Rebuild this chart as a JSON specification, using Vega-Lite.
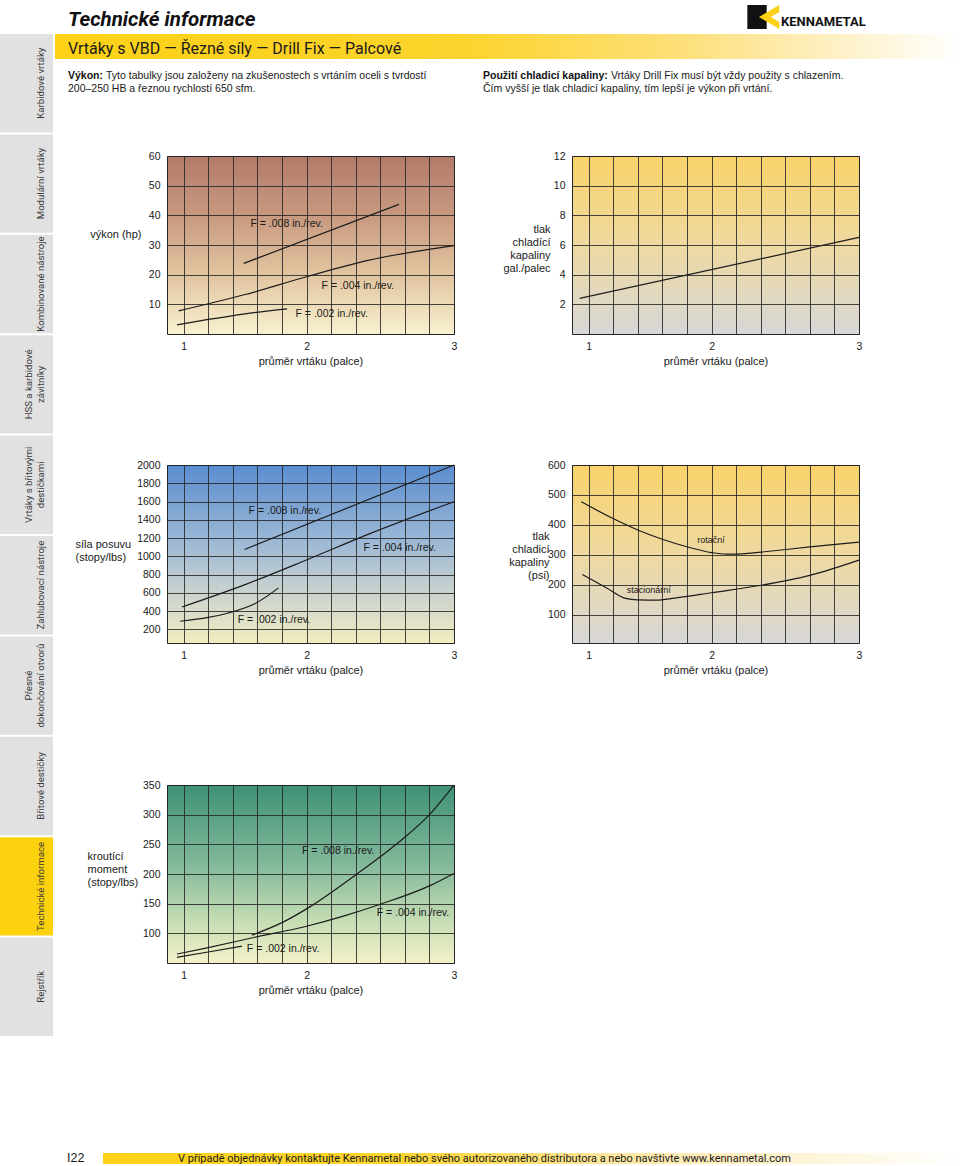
{
  "$schema": "https://vega.github.io/schema/vega-lite/v6.json",
  "background": "white",
  "padding": {"left": 0, "top": 4, "right": 0, "bottom": 0},
  "autosize": {"type": "pad"},
  "config": {
    "view": {"stroke": null},
    "point": {"size": 1, "strokeWidth": 0, "filled": true},
    "axis": {"grid": true, "gridColor": "#262626", "gridOpacity": 0.85, "gridWidth": 1, "ticks": false, "tickSize": 0, "domain": false, "labelFont": "Liberation Sans, Arial, Helvetica, sans-serif", "labelFontSize": 10.5, "labelColor": "#1a1a1a", "labelPadding": 7, "titleFont": "Liberation Sans, Arial, Helvetica, sans-serif", "titleFontSize": 11, "titleFontWeight": "normal", "titleColor": "#1a1a1a"},
    "title": {"font": "Liberation Sans, Arial, Helvetica, sans-serif", "fontWeight": "normal", "color": "#1a1a1a", "subtitleColor": "#1a1a1a", "frame": "group", "anchor": "start", "orient": "bottom", "baseline": "alphabetic"}
  },
  "datasets": {
    "tabs": [
      {"name": "Karbidové vrtáky", "first": "", "last": "Karbidové vrtáky", "state": "off"},
      {"name": "Modulární vrtáky", "first": "", "last": "Modulární vrtáky", "state": "off"},
      {"name": "Kombinované nástroje", "first": "", "last": "Kombinované nástroje", "state": "off"},
      {"name": "HSS a karbidové závitníky", "first": "HSS a karbidové", "last": "závitníky", "state": "off"},
      {"name": "Vrtáky s břitovými destičkami", "first": "Vrtáky s břitovými", "last": "destičkami", "state": "off"},
      {"name": "Zahlubovací nástroje", "first": "", "last": "Zahlubovací nástroje", "state": "off"},
      {"name": "Přesné dokončování otvorů", "first": "Přesné", "last": "dokončování otvorů", "state": "off"},
      {"name": "Břitové destičky", "first": "", "last": "Břitové destičky", "state": "off"},
      {"name": "Technické informace", "first": "", "last": "Technické informace", "state": "on"},
      {"name": "Rejstřík", "first": "", "last": "Rejstřík", "state": "off"}
    ],
    "c1": [
      {"series": "0.008", "x": 1.489, "y": 23.8}, {"series": "0.008", "x": 2.752, "y": 43.7},
      {"series": "0.004", "x": 0.959, "y": 7.8}, {"series": "0.004", "x": 1.5, "y": 13.3}, {"series": "0.004", "x": 2.0, "y": 19.3}, {"series": "0.004", "x": 2.5, "y": 24.8}, {"series": "0.004", "x": 3.2, "y": 29.8},
      {"series": "0.002", "x": 0.945, "y": 3.1}, {"series": "0.002", "x": 1.2, "y": 4.9}, {"series": "0.002", "x": 1.5, "y": 6.8}, {"series": "0.002", "x": 1.842, "y": 8.5}
    ],
    "t1": [
      {"label": "F = .008 in./rev.", "x": 1.543, "y": 37.1},
      {"label": "F = .004 in./rev.", "x": 2.122, "y": 16.3},
      {"label": "F = .002 in./rev.", "x": 1.91, "y": 6.7}
    ],
    "c2": [
      {"series": "tlak", "x": 0.926, "y": 2.4}, {"series": "tlak", "x": 3.2, "y": 6.51}
    ],
    "c3": [
      {"series": "0.008", "x": 1.495, "y": 1074}, {"series": "0.008", "x": 3.2, "y": 2000},
      {"series": "0.004", "x": 0.986, "y": 445}, {"series": "0.004", "x": 1.5, "y": 690}, {"series": "0.004", "x": 2.0, "y": 960}, {"series": "0.004", "x": 2.5, "y": 1240}, {"series": "0.004", "x": 3.2, "y": 1598},
      {"series": "0.002", "x": 0.972, "y": 288}, {"series": "0.002", "x": 1.2, "y": 330}, {"series": "0.002", "x": 1.365, "y": 379}, {"series": "0.002", "x": 1.582, "y": 482}, {"series": "0.002", "x": 1.772, "y": 654}
    ],
    "t3": [
      {"label": "F = .008 in./rev.", "x": 1.528, "y": 1495},
      {"label": "F = .004 in./rev.", "x": 2.463, "y": 1096},
      {"label": "F = .002 in./rev.", "x": 1.439, "y": 302}
    ],
    "c4": [
      {"series": "rotační", "x": 0.94, "y": 477}, {"series": "rotační", "x": 1.198, "y": 421}, {"series": "rotační", "x": 1.404, "y": 382}, {"series": "rotační", "x": 1.605, "y": 351}, {"series": "rotační", "x": 1.805, "y": 326}, {"series": "rotační", "x": 2.003, "y": 307}, {"series": "rotační", "x": 2.12, "y": 302}, {"series": "rotační", "x": 2.25, "y": 303}, {"series": "rotační", "x": 2.405, "y": 309}, {"series": "rotační", "x": 2.8, "y": 326}, {"series": "rotační", "x": 3.2, "y": 342},
      {"series": "stacionární", "x": 0.948, "y": 234}, {"series": "stacionární", "x": 1.143, "y": 190}, {"series": "stacionární", "x": 1.3, "y": 154}, {"series": "stacionární", "x": 1.4, "y": 149}, {"series": "stacionární", "x": 1.55, "y": 148}, {"series": "stacionární", "x": 1.7, "y": 155}, {"series": "stacionární", "x": 2.0, "y": 173}, {"series": "stacionární", "x": 2.405, "y": 198}, {"series": "stacionární", "x": 2.8, "y": 231}, {"series": "stacionární", "x": 3.2, "y": 282}
    ],
    "t4": [
      {"label": "rotační", "x": 1.884, "y": 349},
      {"label": "stacionární", "x": 1.309, "y": 181}
    ],
    "c5": [
      {"series": "0.008", "x": 1.555, "y": 97}, {"series": "0.008", "x": 1.8, "y": 118}, {"series": "0.008", "x": 2.03, "y": 145}, {"series": "0.008", "x": 2.41, "y": 200}, {"series": "0.008", "x": 2.73, "y": 250}, {"series": "0.008", "x": 3.0, "y": 300}, {"series": "0.008", "x": 3.2, "y": 350},
      {"series": "0.004", "x": 0.945, "y": 65}, {"series": "0.004", "x": 1.2, "y": 76}, {"series": "0.004", "x": 1.57, "y": 93}, {"series": "0.004", "x": 2.0, "y": 112}, {"series": "0.004", "x": 2.3, "y": 129}, {"series": "0.004", "x": 2.6, "y": 149}, {"series": "0.004", "x": 3.0, "y": 180}, {"series": "0.004", "x": 3.2, "y": 201},
      {"series": "0.002", "x": 0.945, "y": 59.6}, {"series": "0.002", "x": 1.2, "y": 68.5}, {"series": "0.002", "x": 1.474, "y": 78.3}
    ],
    "t5": [
      {"label": "F = .008 in./rev.", "x": 1.962, "y": 238.5},
      {"label": "F = .004 in./rev.", "x": 2.571, "y": 135},
      {"label": "F = .002 in./rev.", "x": 1.514, "y": 73.8}
    ]
  },
  "hconcat": [
    {
      "width": 53, "height": 1031,
      "data": {"name": "tabs"},
      "encoding": {"y": {"field": "name", "type": "nominal", "sort": null, "axis": null, "scale": {"type": "band", "paddingInner": 0.02, "paddingOuter": 0.1444, "align": 1}}},
      "layer": [
        {"mark": {"type": "rect"}, "encoding": {"color": {"field": "state", "type": "nominal", "scale": {"domain": ["off", "on"], "range": ["#e1e1e2", "#fcd20e"]}, "legend": null}}},
        {"mark": {"type": "text", "angle": 270, "baseline": "alphabetic", "align": "center", "dy": 17.5, "font": "Roboto, Liberation Sans, sans-serif", "fontSize": 9.6, "color": "#3a3a3a"}, "encoding": {"text": {"field": "last", "type": "nominal"}}},
        {"mark": {"type": "text", "angle": 270, "baseline": "alphabetic", "align": "center", "dy": 5.5, "font": "Roboto, Liberation Sans, sans-serif", "fontSize": 9.6, "color": "#3a3a3a"}, "encoding": {"text": {"field": "first", "type": "nominal"}}}
      ]
    },
    {
      "vconcat": [
        {
          "hconcat": [
            {"width": 692, "height": 29, "data": {"values": [{}]}, "mark": {"type": "point", "opacity": 0},
             "title": {"text": "Technické informace", "orient": "bottom", "anchor": "start", "dx": 13, "offset": -8, "baseline": "alphabetic", "font": "Roboto, Liberation Sans, sans-serif", "fontSize": 20.5, "fontWeight": "bold", "fontStyle": "italic", "color": "#111111"}},
            {"width": 33, "height": 29, "data": {"values": [{}]},
             "title": {"text": "KENNAMETAL", "orient": "bottom", "anchor": "end", "align": "left", "dx": 1, "offset": -8.3, "baseline": "alphabetic", "font": "Roboto, Liberation Sans, sans-serif", "fontSize": 13, "fontWeight": "bold", "color": "#111111"},
             "layer": [
               {"mark": {"type": "point", "shape": "M-0.98,-0.879H0.194V0.576H-0.98Z", "size": 1089, "filled": true, "color": "#111111", "opacity": 1, "strokeWidth": 0}, "encoding": {}},
               {"mark": {"type": "point", "shape": "M0.958,-0.879L-0.273,-0.152L0.958,0.576L0.958,0.152L0.436,-0.152L0.958,-0.455Z", "size": 1089, "filled": true, "color": "#fcd116", "opacity": 1, "strokeWidth": 0}, "encoding": {}}
             ]}
          ],
          "spacing": 0, "bounds": "flush"
        },
        {"width": 905, "height": 25, "data": {"values": [{}]}, "mark": {"type": "point", "opacity": 0},
         "view": {"fill": {"gradient": "linear", "x1": 0, "y1": 0, "x2": 1, "y2": 0, "stops": [{"offset": 0, "color": "#fcd116"}, {"offset": 0.45, "color": "#fcd42c"}, {"offset": 0.7, "color": "#fde07c"}, {"offset": 0.86, "color": "#fef0c4"}, {"offset": 1, "color": "#ffffff"}]}, "stroke": null},
         "title": {"text": "Vrtáky s VBD — Řezné síly — Drill Fix — Palcové", "orient": "bottom", "anchor": "start", "dx": 13, "offset": -5.5, "baseline": "alphabetic", "font": "Roboto, Liberation Sans, sans-serif", "fontSize": 16, "color": "#1a1a1a"}},
        {
          "hconcat": [
            {"width": 50, "height": 91, "data": {"values": [{}]}, "mark": {"type": "point", "opacity": 0},
             "title": {"text": "Výkon:", "subtitle": "200–250 HB a řeznou rychlostí 650 sfm.", "orient": "bottom", "anchor": "start", "dx": 13, "offset": -71, "baseline": "alphabetic", "fontSize": 10.5, "fontWeight": "bold", "color": "#111111", "subtitleFont": "Liberation Sans, Arial, Helvetica, sans-serif", "subtitleFontSize": 10.5, "subtitleFontWeight": "normal", "subtitleColor": "#1a1a1a", "subtitlePadding": 2.5}},
            {"width": 378, "height": 91, "data": {"values": [{}]}, "mark": {"type": "point", "opacity": 0},
             "title": {"text": "Tyto tabulky jsou založeny na zkušenostech s vrtáním oceli s tvrdostí", "orient": "bottom", "anchor": "start", "dx": 1, "offset": -71, "baseline": "alphabetic", "fontSize": 10.5, "fontWeight": "normal", "color": "#1a1a1a"}},
            {"width": 128, "height": 91, "data": {"values": [{}]}, "mark": {"type": "point", "opacity": 0},
             "title": {"text": "Použití chladicí kapaliny:", "subtitle": "Čím vyšší je tlak chladicí kapaliny, tím lepší je výkon při vrtání.", "orient": "bottom", "anchor": "start", "dx": 0, "offset": -71, "baseline": "alphabetic", "fontSize": 10.5, "fontWeight": "bold", "color": "#111111", "subtitleFont": "Liberation Sans, Arial, Helvetica, sans-serif", "subtitleFontSize": 10.5, "subtitleFontWeight": "normal", "subtitleColor": "#1a1a1a", "subtitlePadding": 2.5}},
            {"width": 349, "height": 91, "data": {"values": [{}]}, "mark": {"type": "point", "opacity": 0},
             "title": {"text": "Vrtáky Drill Fix musí být vždy použity s chlazením.", "orient": "bottom", "anchor": "start", "dx": 0, "offset": -71, "baseline": "alphabetic", "fontSize": 10.5, "fontWeight": "normal", "color": "#1a1a1a"}}
          ],
          "spacing": 0, "bounds": "flush"
        },
        {
          "hconcat": [
            {"width": 112, "height": 178, "data": {"values": [{}]}, "mark": {"type": "point", "opacity": 0}},
            {
              "width": 287, "height": 178,
              "view": {"fill": {"gradient": "linear", "x1": 0, "y1": 0, "x2": 0, "y2": 1, "stops": [{"offset": 0, "color": "#b27b6b"}, {"offset": 0.35, "color": "#c99b81"}, {"offset": 0.65, "color": "#e1c39f"}, {"offset": 1, "color": "#f8f1cf"}]}, "stroke": "#262626", "strokeWidth": 1},
              "encoding": {
                "x": {"field": "x", "type": "quantitative", "scale": {"domain": [0.864, 3.2], "nice": false, "zero": false},
                      "axis": {"values": [1, 1.2, 1.4, 1.6, 1.8, 2, 2.2, 2.4, 2.6, 2.8, 3, 3.2], "labelExpr": "datum.value == 1 ? '1' : (datum.value == 2 ? '2' : (datum.value > 3.1 ? '3' : ''))", "labelFlush": false, "labelOverlap": false, "title": "průměr vrtáku (palce)", "titleY": 21, "titleBaseline": "top"}},
                "y": {"field": "y", "type": "quantitative", "scale": {"domain": [0, 60], "nice": false, "zero": false},
                      "axis": {"values": [10, 20, 30, 40, 50, 60], "format": "d", "title": "výkon (hp)", "titleAngle": 0, "titleAlign": "right", "titleBaseline": "alphabetic", "titleX": -26, "titleY": 81, "titleLineHeight": 13}}
              },
              "layer": [
                {"data": {"name": "c1"}, "mark": {"type": "line", "color": "#1c1c1c", "strokeWidth": 1.2, "interpolate": "monotone"}, "encoding": {"detail": {"field": "series", "type": "nominal"}}},
                {"data": {"name": "t1"}, "mark": {"type": "text", "align": "left", "baseline": "middle", "fontSize": 10.5, "font": "Liberation Sans, Arial, Helvetica, sans-serif", "color": "#1a1a1a"}, "encoding": {"text": {"field": "label", "type": "nominal"}}}
              ]
            },
            {"width": 118, "height": 178, "data": {"values": [{}]}, "mark": {"type": "point", "opacity": 0}},
            {
              "width": 287, "height": 178,
              "view": {"fill": {"gradient": "linear", "x1": 0, "y1": 0, "x2": 0, "y2": 1, "stops": [{"offset": 0, "color": "#f9d36a"}, {"offset": 0.5, "color": "#eed9a1"}, {"offset": 1, "color": "#d7d7d7"}]}, "stroke": "#262626", "strokeWidth": 1},
              "encoding": {
                "x": {"field": "x", "type": "quantitative", "scale": {"domain": [0.864, 3.2], "nice": false, "zero": false},
                      "axis": {"values": [1, 1.2, 1.4, 1.6, 1.8, 2, 2.2, 2.4, 2.6, 2.8, 3, 3.2], "labelExpr": "datum.value == 1 ? '1' : (datum.value == 2 ? '2' : (datum.value > 3.1 ? '3' : ''))", "labelFlush": false, "labelOverlap": false, "title": "průměr vrtáku (palce)", "titleY": 21, "titleBaseline": "top"}},
                "y": {"field": "y", "type": "quantitative", "scale": {"domain": [0, 12], "nice": false, "zero": false},
                      "axis": {"values": [2, 4, 6, 8, 10, 12], "format": "d", "title": ["tlak", "chladící", "kapaliny", "gal./palec"], "titleAngle": 0, "titleAlign": "right", "titleBaseline": "alphabetic", "titleX": -22, "titleY": 76, "titleLineHeight": 13}}
              },
              "layer": [
                {"data": {"name": "c2"}, "mark": {"type": "line", "color": "#1c1c1c", "strokeWidth": 1.2, "interpolate": "monotone"}, "encoding": {"detail": {"field": "series", "type": "nominal"}}}
              ]
            }
          ],
          "spacing": 0, "bounds": "flush"
        },
        {"width": 1, "height": 92, "data": {"values": [{}]}, "mark": {"type": "point", "opacity": 0}},
        {
          "hconcat": [
            {"width": 112, "height": 178, "data": {"values": [{}]}, "mark": {"type": "point", "opacity": 0}},
            {
              "width": 287, "height": 178,
              "view": {"fill": {"gradient": "linear", "x1": 0, "y1": 0, "x2": 0, "y2": 1, "stops": [{"offset": 0, "color": "#5a8dd0"}, {"offset": 0.4, "color": "#98b6d6"}, {"offset": 0.7, "color": "#c8d1cf"}, {"offset": 1, "color": "#f2edc0"}]}, "stroke": "#262626", "strokeWidth": 1},
              "encoding": {
                "x": {"field": "x", "type": "quantitative", "scale": {"domain": [0.864, 3.2], "nice": false, "zero": false},
                      "axis": {"values": [1, 1.2, 1.4, 1.6, 1.8, 2, 2.2, 2.4, 2.6, 2.8, 3, 3.2], "labelExpr": "datum.value == 1 ? '1' : (datum.value == 2 ? '2' : (datum.value > 3.1 ? '3' : ''))", "labelFlush": false, "labelOverlap": false, "title": "průměr vrtáku (palce)", "titleY": 21, "titleBaseline": "top"}},
                "y": {"field": "y", "type": "quantitative", "scale": {"domain": [50, 2000], "nice": false, "zero": false},
                      "axis": {"values": [200, 400, 600, 800, 1000, 1200, 1400, 1600, 1800, 2000], "format": "d", "title": ["síla posuvu", "(stopy/lbs)"], "titleAngle": 0, "titleAlign": "left", "titleBaseline": "alphabetic", "titleX": -92, "titleY": 82, "titleLineHeight": 13}}
              },
              "layer": [
                {"data": {"name": "c3"}, "mark": {"type": "line", "color": "#1c1c1c", "strokeWidth": 1.2, "interpolate": "monotone"}, "encoding": {"detail": {"field": "series", "type": "nominal"}}},
                {"data": {"name": "t3"}, "mark": {"type": "text", "align": "left", "baseline": "middle", "fontSize": 10.5, "font": "Liberation Sans, Arial, Helvetica, sans-serif", "color": "#1a1a1a"}, "encoding": {"text": {"field": "label", "type": "nominal"}}}
              ]
            },
            {"width": 118, "height": 178, "data": {"values": [{}]}, "mark": {"type": "point", "opacity": 0}},
            {
              "width": 287, "height": 178,
              "view": {"fill": {"gradient": "linear", "x1": 0, "y1": 0, "x2": 0, "y2": 1, "stops": [{"offset": 0, "color": "#f9d36a"}, {"offset": 0.5, "color": "#eed9a1"}, {"offset": 1, "color": "#d7d7d7"}]}, "stroke": "#262626", "strokeWidth": 1},
              "encoding": {
                "x": {"field": "x", "type": "quantitative", "scale": {"domain": [0.864, 3.2], "nice": false, "zero": false},
                      "axis": {"values": [1, 1.2, 1.4, 1.6, 1.8, 2, 2.2, 2.4, 2.6, 2.8, 3, 3.2], "labelExpr": "datum.value == 1 ? '1' : (datum.value == 2 ? '2' : (datum.value > 3.1 ? '3' : ''))", "labelFlush": false, "labelOverlap": false, "title": "průměr vrtáku (palce)", "titleY": 21, "titleBaseline": "top"}},
                "y": {"field": "y", "type": "quantitative", "scale": {"domain": [5, 600], "nice": false, "zero": false},
                      "axis": {"values": [100, 200, 300, 400, 500, 600], "format": "d", "title": ["tlak", "chladicí", "kapaliny", "(psi)"], "titleAngle": 0, "titleAlign": "right", "titleBaseline": "alphabetic", "titleX": -23, "titleY": 74, "titleLineHeight": 13}}
              },
              "layer": [
                {"data": {"name": "c4"}, "mark": {"type": "line", "color": "#1c1c1c", "strokeWidth": 1.2, "interpolate": "monotone"}, "encoding": {"detail": {"field": "series", "type": "nominal"}}},
                {"data": {"name": "t4"}, "mark": {"type": "text", "align": "left", "baseline": "middle", "fontSize": 9, "font": "Liberation Sans, Arial, Helvetica, sans-serif", "color": "#1a1a1a"}, "encoding": {"text": {"field": "label", "type": "nominal"}}}
              ]
            }
          ],
          "spacing": 0, "bounds": "flush"
        },
        {"width": 1, "height": 103, "data": {"values": [{}]}, "mark": {"type": "point", "opacity": 0}},
        {
          "hconcat": [
            {"width": 112, "height": 178, "data": {"values": [{}]}, "mark": {"type": "point", "opacity": 0}},
            {
              "width": 287, "height": 178,
              "view": {"fill": {"gradient": "linear", "x1": 0, "y1": 0, "x2": 0, "y2": 1, "stops": [{"offset": 0, "color": "#3e9276"}, {"offset": 0.45, "color": "#84b99b"}, {"offset": 0.75, "color": "#c3dcb3"}, {"offset": 1, "color": "#f4f2c9"}]}, "stroke": "#262626", "strokeWidth": 1},
              "encoding": {
                "x": {"field": "x", "type": "quantitative", "scale": {"domain": [0.864, 3.2], "nice": false, "zero": false},
                      "axis": {"values": [1, 1.2, 1.4, 1.6, 1.8, 2, 2.2, 2.4, 2.6, 2.8, 3, 3.2], "labelExpr": "datum.value == 1 ? '1' : (datum.value == 2 ? '2' : (datum.value > 3.1 ? '3' : ''))", "labelFlush": false, "labelOverlap": false, "title": "průměr vrtáku (palce)", "titleY": 21, "titleBaseline": "top"}},
                "y": {"field": "y", "type": "quantitative", "scale": {"domain": [50, 350], "nice": false, "zero": false},
                      "axis": {"values": [100, 150, 200, 250, 300, 350], "format": "d", "title": ["kroutící", "moment", "(stopy/lbs)"], "titleAngle": 0, "titleAlign": "left", "titleBaseline": "alphabetic", "titleX": -80, "titleY": 74, "titleLineHeight": 13}}
              },
              "layer": [
                {"data": {"name": "c5"}, "mark": {"type": "line", "color": "#1c1c1c", "strokeWidth": 1.2, "interpolate": "monotone"}, "encoding": {"detail": {"field": "series", "type": "nominal"}}},
                {"data": {"name": "t5"}, "mark": {"type": "text", "align": "left", "baseline": "middle", "fontSize": 10.5, "font": "Liberation Sans, Arial, Helvetica, sans-serif", "color": "#1a1a1a"}, "encoding": {"text": {"field": "label", "type": "nominal"}}}
              ]
            }
          ],
          "spacing": 0, "bounds": "flush"
        },
        {"width": 1, "height": 156, "data": {"values": [{}]}, "mark": {"type": "point", "opacity": 0}},
        {
          "hconcat": [
            {"width": 48, "height": 11, "data": {"values": [{}]}, "mark": {"type": "point", "opacity": 0},
             "title": {"text": "I22", "orient": "bottom", "anchor": "start", "dx": 12, "offset": -2, "baseline": "alphabetic", "fontSize": 12.5, "color": "#1a1a1a"}},
            {"width": 857, "height": 11, "data": {"values": [{}]}, "mark": {"type": "point", "opacity": 0},
             "view": {"fill": {"gradient": "linear", "x1": 0, "y1": 0, "x2": 1, "y2": 0, "stops": [{"offset": 0, "color": "#fcd116"}, {"offset": 0.35, "color": "#fcd531"}, {"offset": 0.6, "color": "#fde8a3"}, {"offset": 0.85, "color": "#fef6de"}, {"offset": 1, "color": "#ffffff"}]}, "stroke": null},
             "title": {"text": "V případě objednávky kontaktujte Kennametal nebo svého autorizovaného distributora a nebo navštivte www.kennametal.com", "orient": "bottom", "anchor": "start", "dx": 75, "offset": -2, "baseline": "alphabetic", "font": "Roboto, Liberation Sans, sans-serif", "fontSize": 11, "color": "#1a1a1a"}}
          ],
          "spacing": 0, "bounds": "flush"
        }
      ],
      "spacing": 0, "bounds": "full"
    }
  ],
  "spacing": 2, "bounds": "full"
}
